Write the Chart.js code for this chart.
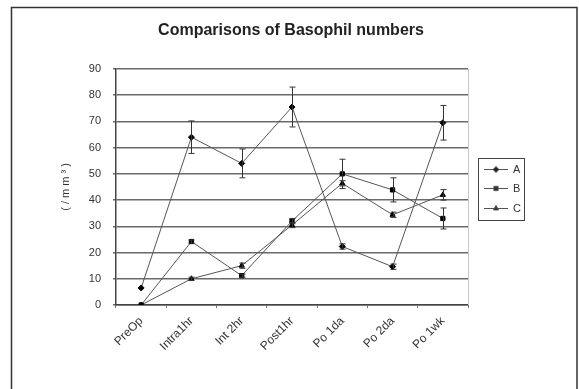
<!DOCTYPE html>
<html>
<head>
<meta charset="utf-8">
<script src="https://cdn.jsdelivr.net/npm/chart.js@4/dist/chart.umd.min.js"></script>
<style>
  html, body { margin: 0; padding: 0; background: #fff; }
  #wrap { width: 579px; height: 389px; position: relative; }
</style>
</head>
<body>
<div id="wrap"><canvas id="c" width="579" height="389"></canvas></div>
<script>
// Sampling times
const categories = ['PreOp', 'Intra1hr', 'Int 2hr', 'Post1hr', 'Po 1da', 'Po 2da', 'Po 1wk'];
// Basophil counts per group (/mm³)
const seriesA = [6.5, 64, 54, 75.5, 22.3, 14.6, 69.5];
const seriesB = [0, 24.2, 11.2, 32, 50, 43.9, 33];
const seriesC = [0, 10, 15, 30.5, 46.4, 34.4, 42];
// Error bar half-lengths
const errA = [0, 6.2, 5.5, 7.6, 1, 1, 6.6];
const errB = [0, 0.6, 0.6, 1, 5.6, 4.6, 4];
const errC = [0, 0.6, 1, 1, 1, 1, 2];
const yTicks = [0, 10, 20, 30, 40, 50, 60, 70, 80, 90];
const titleText = 'Comparisons of Basophil numbers';

const errors = [errA, errB, errC];
const FONT = 'Liberation Sans, Arial, sans-serif';

// Error bars with caps, drawn through the chart scales
const errorBars = {
  id: 'errorBars',
  afterDatasetsDraw(chart) {
    const { ctx, scales: { x, y } } = chart;
    ctx.save();
    ctx.strokeStyle = '#333';
    ctx.lineWidth = 1;
    chart.data.datasets.forEach((ds, i) => {
      const err = errors[i];
      ds.data.forEach((v, j) => {
        const e = err[j];
        if (!e) return;
        const px = Math.round(x.getPixelForValue(j)) + 0.5;
        const top = y.getPixelForValue(v + e);
        const bot = y.getPixelForValue(v - e);
        ctx.beginPath();
        ctx.moveTo(px, top); ctx.lineTo(px, bot);
        ctx.moveTo(px - 3, top); ctx.lineTo(px + 3, top);
        ctx.moveTo(px - 3, bot); ctx.lineTo(px + 3, bot);
        ctx.stroke();
      });
    });
    ctx.restore();
  }
};

// Frame, title, right plot edge and legend box
const decor = {
  id: 'decor',
  afterDraw(chart) {
    const { ctx, chartArea: a } = chart;
    ctx.save();
    // outer frame
    ctx.strokeStyle = '#333';
    ctx.lineWidth = 1.5;
    ctx.strokeRect(11.5, 7.5, 565.5, 400);
    // title, centred on the frame
    ctx.fillStyle = '#222';
    ctx.font = 'bold 16px ' + FONT;
    ctx.textAlign = 'center';
    ctx.textBaseline = 'middle';
    ctx.fillText(titleText, 291, 31);
    // right edge of plot area
    ctx.strokeStyle = '#c8c8c8';
    ctx.lineWidth = 1;
    ctx.beginPath();
    ctx.moveTo(Math.round(a.right) + 0.5, a.top);
    ctx.lineTo(Math.round(a.right) + 0.5, a.bottom);
    ctx.stroke();
    // legend
    const lx = 478, ly = 158, lw = 46, lh = 62;
    ctx.strokeStyle = '#444';
    ctx.lineWidth = 1;
    ctx.strokeRect(lx + 0.5, ly + 0.5, lw, lh);
    const names = ['A', 'B', 'C'];
    const rows = [169, 188, 208];
    ctx.textAlign = 'left';
    chart.data.datasets.forEach((ds, i) => {
      const yy = rows[i] + 0.5;
      ctx.strokeStyle = '#555';
      ctx.beginPath();
      ctx.moveTo(lx + 6, yy); ctx.lineTo(lx + 30, yy);
      ctx.stroke();
      Chart.helpers.drawPoint(ctx, {
        pointStyle: ds.pointStyle, radius: 3, borderWidth: 1
      }, lx + 18, yy);
      ctx.fillStyle = '#333';
      ctx.font = '11px ' + FONT;
      ctx.textBaseline = 'middle';
      ctx.fillText(names[i], lx + 35, yy);
    });
    ctx.restore();
  }
};

const mk = (label, data, style) => ({
  label, data,
  borderColor: '#555',
  borderWidth: 1,
  pointStyle: style,
  pointRadius: 3,
  pointBackgroundColor: '#000',
  pointBorderColor: '#000',
  pointBorderWidth: 1,
  tension: 0
});

new Chart(document.getElementById('c'), {
  type: 'line',
  data: {
    labels: categories,
    datasets: [
      mk('A', seriesA, 'rectRot'),
      mk('B', seriesB, 'rect'),
      mk('C', seriesC, 'triangle')
    ]
  },
  options: {
    responsive: false,
    animation: false,
    layout: { padding: { left: 0, top: 69, right: 111, bottom: 0 } },
    plugins: {
      legend: { display: false },
      tooltip: { enabled: false },
      title: { display: false }
    },
    scales: {
      x: {
        offset: true,
        grid: {
          offset: true, drawOnChartArea: false, drawTicks: true,
          tickLength: 3, color: '#777'
        },
        border: { display: true, color: '#444', width: 1.5 },
        ticks: {
          autoSkip: false, maxRotation: 45, minRotation: 45,
          color: '#333', font: { family: FONT, size: 12 }, padding: 6
        },
        afterFit(s) { s.height = 84; }
      },
      y: {
        min: 0, max: 90,
        afterBuildTicks(s) { s.ticks = yTicks.map(v => ({ value: v })); },
        grid: { color: '#6a6a6a', lineWidth: 1.6, tickLength: 3, drawTicks: true },
        border: { display: true, color: '#444', width: 1.5 },
        ticks: { color: '#333', font: { family: FONT, size: 11 }, padding: 12 },
        title: {
          display: true,
          text: '( / m m ³ )',
          color: '#333',
          font: { family: FONT, size: 11 },
          padding: { top: 59, bottom: 0 }
        },
        afterFit(s) { s.width = 116; }
      }
    }
  },
  plugins: [errorBars, decor]
});
</script>
</body>
</html>
